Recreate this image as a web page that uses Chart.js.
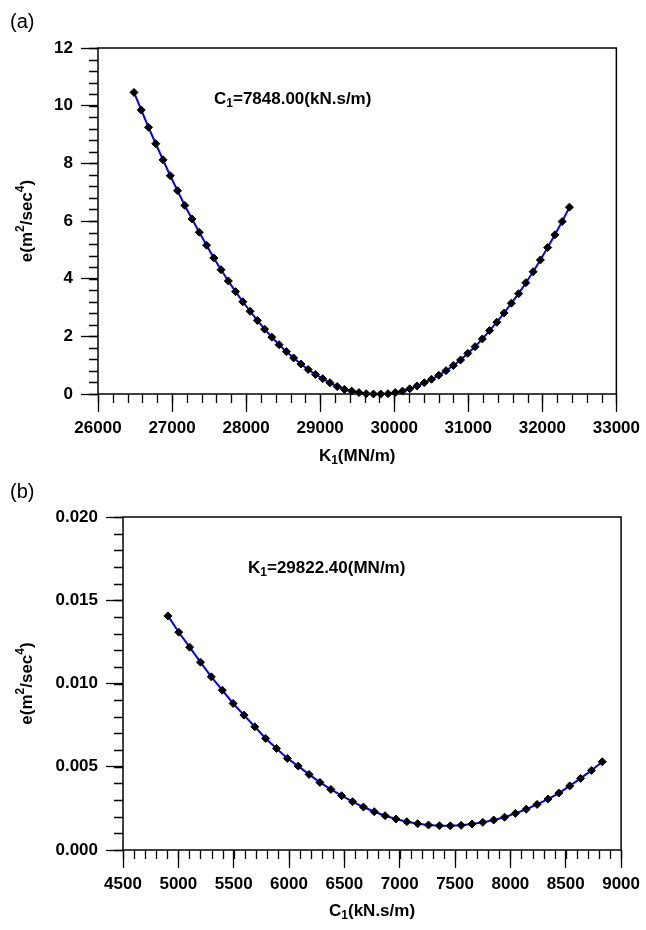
<!DOCTYPE html>
<html>
<head>
<meta charset="utf-8">
<script src="https://cdn.jsdelivr.net/npm/chart.js@4.4.1/dist/chart.umd.min.js"></script>
<style>
  body { margin: 0; background: #fff; width: 646px; height: 930px; position: relative; overflow: hidden; }
  canvas { position: absolute; left: 0; }
</style>
</head>
<body>
<canvas id="chartA" width="646" height="465" style="top:0px"></canvas>
<canvas id="chartB" width="646" height="465" style="top:465px"></canvas>
<script>
// (a) error vs K1, C1 fixed
const stiffness = [
  26486, 26584, 26682, 26780, 26878, 26976, 27074, 27172, 27270, 27368,
  27466, 27564, 27662, 27760, 27858, 27956, 28054, 28152, 28250, 28348,
  28446, 28544, 28642, 28740, 28838, 28936, 29034, 29132, 29230, 29328,
  29426, 29524, 29622, 29720, 29818, 29916, 30014, 30112, 30210, 30308,
  30406, 30504, 30602, 30700, 30798, 30896, 30994, 31092, 31190, 31288,
  31386, 31484, 31582, 31680, 31778, 31876, 31974, 32072, 32170, 32268,
  32366
];
const errorK = [
  10.46, 9.85, 9.25, 8.68, 8.12, 7.57, 7.05, 6.54, 6.07, 5.61,
  5.16, 4.72, 4.31, 3.92, 3.55, 3.20, 2.87, 2.55, 2.25, 1.97,
  1.71, 1.47, 1.25, 1.04, 0.85, 0.68, 0.53, 0.39, 0.26, 0.16,
  0.10, 0.05, 0.01, 0.00, 0.00, 0.01, 0.05, 0.10, 0.18, 0.28,
  0.39, 0.51, 0.65, 0.81, 0.99, 1.18, 1.41, 1.64, 1.91, 2.20,
  2.49, 2.81, 3.15, 3.48, 3.86, 4.24, 4.65, 5.08, 5.52, 5.98,
  6.48
];
const kTicks = [26000, 27000, 28000, 29000, 30000, 31000, 32000, 33000];
const eTicksA = [0, 2, 4, 6, 8, 10, 12];

// (b) error vs C1, K1 fixed
const damping = [
  4906, 5004, 5102, 5200, 5298, 5397, 5495, 5593, 5691, 5789,
  5887, 5985, 6083, 6181, 6279, 6378, 6476, 6574, 6672, 6770,
  6868, 6966, 7064, 7162, 7260, 7359, 7457, 7555, 7653, 7751,
  7849, 7947, 8045, 8143, 8241, 8340, 8438, 8536, 8634, 8732,
  8830
];
const errorC = [
  0.01406, 0.01308, 0.01218, 0.01128, 0.01040, 0.00960, 0.00880, 0.00810, 0.00740, 0.00670,
  0.00610, 0.00550, 0.00504, 0.00454, 0.00406, 0.00364, 0.00326, 0.00290, 0.00258, 0.00230,
  0.00206, 0.00186, 0.00170, 0.00158, 0.00150, 0.00146, 0.00145, 0.00148, 0.00156, 0.00166,
  0.00180, 0.00197, 0.00220, 0.00245, 0.00274, 0.00306, 0.00342, 0.00385, 0.00430, 0.00478,
  0.00530
];
const cTicks = [4500, 5000, 5500, 6000, 6500, 7000, 7500, 8000, 8500, 9000];
const eTicksB = [0, 0.005, 0.010, 0.015, 0.020];

const FONT = '"Liberation Sans", Arial, Helvetica, sans-serif';

// text pieces: 0 normal, 1 superscript, -1 subscript
function drawRich(ctx, parts, x, y, align, rotated) {
  const big = 'bold 17px ' + FONT;
  const small = 'bold 12px ' + FONT;
  let w = 0;
  parts.forEach(p => { ctx.font = p[1] ? small : big; w += ctx.measureText(p[0]).width; });
  ctx.save();
  ctx.translate(x, y);
  if (rotated) ctx.rotate(-Math.PI / 2);
  ctx.fillStyle = '#000';
  ctx.textAlign = 'left';
  ctx.textBaseline = 'middle';
  let cx = align === 'center' ? -w / 2 : 0;
  parts.forEach(p => {
    ctx.font = p[1] ? small : big;
    ctx.fillText(p[0], cx, p[1] === 1 ? -6 : (p[1] === -1 ? 5 : 0));
    cx += ctx.measureText(p[0]).width;
  });
  ctx.restore();
}

// frame + minor ticks under the data, labels on top
const decor = {
  id: 'decor',
  beforeDatasetsDraw(chart, args, o) {
    const { ctx, chartArea: a, scales: { x, y } } = chart;
    ctx.save();
    ctx.strokeStyle = '#000';
    ctx.lineWidth = 1.3;
    ctx.beginPath();
    let n = Math.round((x.max - x.min) / o.xMinor);
    for (let k = 0; k <= n; k++) {
      const px = Math.round(x.getPixelForValue(x.min + k * o.xMinor)) + 0.5;
      ctx.moveTo(px, a.bottom);
      ctx.lineTo(px, a.bottom + o.minorLen);
    }
    n = Math.round((y.max - y.min) / o.yMinor);
    for (let k = 0; k <= n; k++) {
      const py = Math.round(y.getPixelForValue(y.min + k * o.yMinor)) + 0.5;
      ctx.moveTo(a.left, py);
      ctx.lineTo(a.left - o.minorLen, py);
    }
    ctx.stroke();
    ctx.lineWidth = 1.5;
    ctx.strokeRect(a.left, a.top, a.right - a.left, a.bottom - a.top);
    ctx.restore();
  },
  afterDraw(chart, args, o) {
    const { ctx, chartArea: a } = chart;
    ctx.save();
    ctx.fillStyle = '#000';
    ctx.font = '20px ' + FONT;
    ctx.textBaseline = 'middle';
    ctx.fillText(o.panel, 10, o.panelY);
    ctx.restore();
    drawRich(ctx, o.note, o.noteX, a.top + 51, 'left', false);
    drawRich(ctx, o.xTitle, (a.left + a.right) / 2, o.xTitleY, 'center', false);
    drawRich(ctx, o.yTitle, 27, (a.top + a.bottom) / 2, 'center', true);
  }
};

function makeChart(id, xs, ys, xTicks, yTicks, fmt, box, extra) {
  const tickFont = { family: FONT, size: 17, weight: 'bold' };
  return new Chart(document.getElementById(id), {
    type: 'line',
    data: {
      datasets: [{
        data: xs.map((v, i) => ({ x: v, y: ys[i] })),
        borderColor: '#0000ff',
        borderWidth: 2,
        pointStyle: 'rectRot',
        pointRadius: 4,
        pointBackgroundColor: '#000',
        pointBorderColor: '#000',
        pointBorderWidth: 1,
        tension: 0,
        clip: false
      }]
    },
    options: {
      responsive: false,
      animation: false,
      devicePixelRatio: 1,
      layout: { padding: { left: 0, top: box.top, right: 646 - box.right, bottom: 0 } },
      plugins: { legend: { display: false }, tooltip: { enabled: false }, decor: extra },
      scales: {
        x: {
          type: 'linear',
          min: xTicks[0], max: xTicks[xTicks.length - 1],
          afterBuildTicks: s => { s.ticks = xTicks.map(v => ({ value: v })); },
          afterFit: s => { s.height = 465 - box.bottom; },
          grid: { drawOnChartArea: false, drawTicks: true, tickLength: 18, tickColor: '#000', tickWidth: 1.3 },
          border: { display: false },
          ticks: { font: tickFont, color: '#000', padding: 6, maxRotation: 0, callback: v => String(v) }
        },
        y: {
          type: 'linear',
          min: yTicks[0], max: yTicks[yTicks.length - 1],
          afterBuildTicks: s => { s.ticks = yTicks.map(v => ({ value: v })); },
          afterFit: s => { s.width = box.left; },
          grid: { drawOnChartArea: false, drawTicks: true, tickLength: 17, tickColor: '#000', tickWidth: 1.3 },
          border: { display: false },
          ticks: { font: tickFont, color: '#000', padding: 8, callback: fmt }
        }
      }
    },
    plugins: [decor]
  });
}

makeChart('chartA', stiffness, errorK, kTicks, eTicksA, v => String(v),
  { left: 98, top: 48, right: 617, bottom: 394 },
  {
    xMinor: 200, yMinor: 0.4, minorLen: 9,
    panel: '(a)', panelY: 22,
    note: [['C', 0], ['1', -1], ['=7848.00(kN.s/m)', 0]], noteX: 214,
    xTitle: [['K', 0], ['1', -1], ['(MN/m)', 0]], xTitleY: 456,
    yTitle: [['e(m', 0], ['2', 1], ['/sec', 0], ['4', 1], [')', 0]]
  });

makeChart('chartB', damping, errorC, cTicks, eTicksB, v => v.toFixed(3),
  { left: 123, top: 52, right: 623, bottom: 385 },
  {
    xMinor: 100, yMinor: 0.001, minorLen: 9,
    panel: '(b)', panelY: 27,
    note: [['K', 0], ['1', -1], ['=29822.40(MN/m)', 0]], noteX: 248,
    xTitle: [['C', 0], ['1', -1], ['(kN.s/m)', 0]], xTitleY: 446,
    yTitle: [['e(m', 0], ['2', 1], ['/sec', 0], ['4', 1], [')', 0]]
  });
</script>
</body>
</html>
